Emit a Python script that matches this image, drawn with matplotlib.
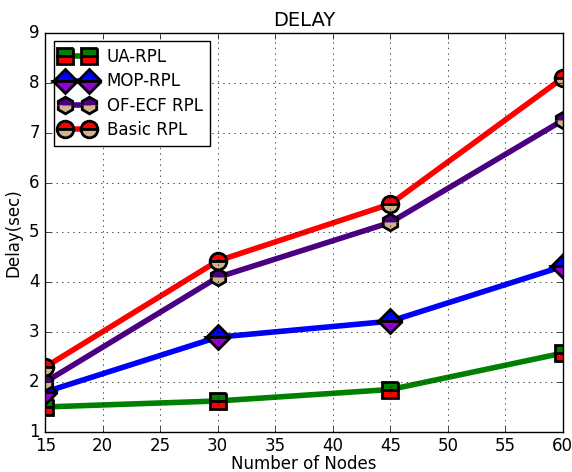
import numpy as np
import matplotlib
matplotlib.use("Agg")
import matplotlib.pyplot as plt

plt.style.use('classic')

# data
nodes = [15, 30, 45, 60]
ua_rpl = [1.5, 1.62, 1.85, 2.58]
mop_rpl = [1.8, 2.9, 3.22, 4.32]
ofecf_rpl = [2.0, 4.1, 5.2, 7.25]
basic_rpl = [2.3, 4.43, 5.57, 8.1]

fig = plt.figure(figsize=(5.72, 4.72), dpi=100)
ax = fig.add_axes([0.079, 0.085, 0.905, 0.845])

ax.plot(nodes, ua_rpl, color='green', lw=4, marker='s', ms=11, mew=2,
        mec='black', fillstyle='top', mfc='green', mfcalt='red', label='UA-RPL')
ax.plot(nodes, mop_rpl, color='blue', lw=4, marker='D', ms=12, mew=2,
        mec='black', fillstyle='top', mfc='blue', mfcalt='darkviolet', label='MOP-RPL')
ax.plot(nodes, ofecf_rpl, color='indigo', lw=4, marker='h', ms=12, mew=2,
        mec='black', fillstyle='top', mfc='indigo', mfcalt='tan', label='OF-ECF RPL')
ax.plot(nodes, basic_rpl, color='red', lw=4, marker='o', ms=12, mew=2,
        mec='black', fillstyle='top', mfc='red', mfcalt='tan', label='Basic RPL')

ax.set_xlim(15, 60)
ax.set_ylim(1, 9)
ax.set_xticks(np.arange(15, 61, 5))
ax.set_yticks(np.arange(1, 10, 1))
ax.grid(True)
ax.set_title("DELAY", fontsize=14)
ax.set_xlabel("Number of Nodes", fontsize=12, labelpad=0)
ax.set_ylabel("Delay(sec)", fontsize=12)
ax.tick_params(labelsize=12)
ax.legend(loc='upper left', fontsize=12, numpoints=2, handlelength=2.0,
          labelspacing=0.38, borderaxespad=0.5)

fig.savefig("out.png", dpi=100)
